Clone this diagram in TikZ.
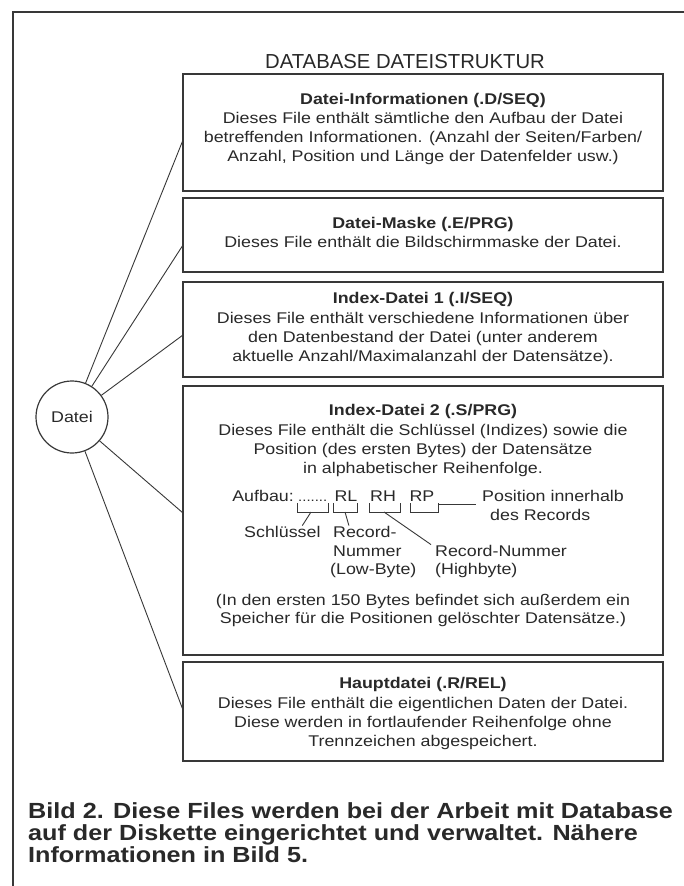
\documentclass[tikz,border=0pt]{standalone}
\usepackage{fontspec}
\setmainfont[FakeStretch=1.15]{Liberation Sans}
\newfontfamily\titlefont{Liberation Sans}
\definecolor{ink}{gray}{0.16}
\definecolor{rule}{gray}{0.22}
\begin{document}
\begin{tikzpicture}[x=1pt,y=-1pt,
  box/.style={draw=rule, line width=1.2pt, minimum width=480pt, inner sep=0pt},
  txt/.style={anchor=base, text=ink, inner sep=0pt, font=\fontsize{15.5}{19}\selectfont},
  ttl/.style={txt, font=\fontsize{15.5}{19}\selectfont\bfseries},
  lft/.style={txt, anchor=base west},
  conn/.style={draw=rule, line width=0.9pt},
  capt/.style={anchor=base west, inner sep=0pt, text=ink, font=\fontsize{21.9}{22}\selectfont\bfseries}]
\useasboundingbox (0,0) rectangle (684,886);
\fill[white] (0,0) rectangle (684,886);
% outer frame (top and left)
\coordinate (fbl) at (13,886);
\coordinate (ftl) at (13,12);
\coordinate (ftr) at (684,12);
\draw[rule, line width=2pt] (fbl) -- (ftl) -- (ftr);
% title
\node (title) [txt, font=\titlefont\fontsize{20.3}{22}\selectfont] at (405,68) {DATABASE DATEISTRUKTUR};
% boxes
\node (b1) [box, minimum height=117pt] at (423,132.5) {};
\node (b2) [box, minimum height=74pt] at (423,235) {};
\node (b3) [box, minimum height=95pt] at (423,329.5) {};
\node (b4) [box, minimum height=269pt] at (423,520.5) {};
\node (b5) [box, minimum height=99pt] at (423,711.5) {};
% box 1
\node (t1) [ttl] at (423,104) {Datei-Informationen (.D/SEQ)};
\node (t1a) [txt] at (423,123) {Dieses File enthält sämtliche den Aufbau der Datei};
\node (t1b) [txt] at (423,142) {betreffenden Informationen. (Anzahl der Seiten/Farben/};
\node (t1c) [txt] at (423,161) {Anzahl, Position und Länge der Datenfelder usw.)};
% box 2
\node (t2) [ttl] at (423,228) {Datei-Maske (.E/PRG)};
\node (t2a) [txt] at (423,247) {Dieses File enthält die Bildschirmmaske der Datei.};
% box 3
\node (t3) [ttl] at (423,303) {Index-Datei 1 (.I/SEQ)};
\node (t3a) [txt] at (423,323) {Dieses File enthält verschiedene Informationen über};
\node (t3b) [txt] at (423,342) {den Datenbestand der Datei (unter anderem};
\node (t3c) [txt] at (423,361) {aktuelle Anzahl/Maximalanzahl der Datensätze).};
% box 4
\node (t4) [ttl] at (423,415) {Index-Datei 2 (.S/PRG)};
\node (t4a) [txt] at (423,435) {Dieses File enthält die Schlüssel (Indizes) sowie die};
\node (t4b) [txt] at (423,454) {Position (des ersten Bytes) der Datensätze};
\node (t4c) [txt] at (423,473) {in alphabetischer Reihenfolge.};
\node (aufb) [txt, anchor=base east] at (294,501) {Aufbau:};
\node (dots) [lft, font=\fontsize{13}{15}\selectfont] at (298,501) {.......};
\node (rl) [txt] at (346,501) {RL};
\node (rh) [txt] at (383,501) {RH};
\node (rp) [txt] at (422,501) {RP};
\draw[conn] (297,503) -- (297,512) -- (328,512) -- (328,503);
\draw[conn] (333,503) -- (333,512) -- (357,512) -- (357,503);
\draw[conn] (369,503) -- (369,512) -- (400,512) -- (400,503);
\draw[conn] (410,503) -- (410,512) -- (438,512) -- (438,503);
\node (posn) [lft] at (482,501) {Position innerhalb};
\node (recs) [lft] at (490,520) {des Records};
\node (schl) [lft] at (244,537) {Schlüssel};
\node (rec1) [lft] at (333,537) {Record-};
\node (rec2) [lft] at (333,556) {Nummer};
\node (rec3) [lft] at (330,574) {(Low-Byte)};
\node (recn) [lft] at (435,556) {Record-Nummer};
\node (high) [lft] at (435,574) {(Highbyte)};
\coordinate (br1) at (311,512);
\coordinate (br2) at (345,512);
\coordinate (br3) at (384,512);
\coordinate (br4) at (438,504);
\coordinate (pe) at (476,504);
\draw[conn] (br1) -- ([xshift=20pt]schl.north);
\draw[conn] (br2) -- ([xshift=-16pt]rec1.north);
\draw[conn] (br3) -- ([xshift=-4pt]recn.north west);
\draw[conn] (br4) -- (pe);
\node (t4d) [txt] at (423,605) {(In den ersten 150 Bytes befindet sich außerdem ein};
\node (t4e) [txt] at (423,623) {Speicher für die Positionen gelöschter Datensätze.)};
% box 5
\node (t5) [ttl] at (423,688) {Hauptdatei (.R/REL)};
\node (t5a) [txt] at (423,708) {Dieses File enthält die eigentlichen Daten der Datei.};
\node (t5b) [txt] at (423,727) {Diese werden in fortlaufender Reihenfolge ohne};
\node (t5c) [txt] at (423,746) {Trennzeichen abgespeichert.};
% circle and connectors
\node (dat) [circle, draw=rule, line width=1.2pt, minimum size=72pt, inner sep=0pt, text=ink, font=\fontsize{15.5}{19}\selectfont] at (72,417) {Datei};
\coordinate (e1) at (183,140);
\coordinate (e2) at (183,245);
\coordinate (e3) at (183,335);
\coordinate (e4) at (183,513);
\coordinate (e5) at (183,710);
\foreach \e in {e1,e2,e3,e4,e5} \draw[conn] (dat) -- (\e);
% caption
\node (c1) [capt] at (28,818) {Bild 2. Diese Files werden bei der Arbeit mit Database};
\node (c2) [capt] at (28,840) {auf der Diskette eingerichtet und verwaltet. Nähere};
\node (c3) [capt] at (28,862) {Informationen in Bild 5.};
\end{tikzpicture}
\end{document}
